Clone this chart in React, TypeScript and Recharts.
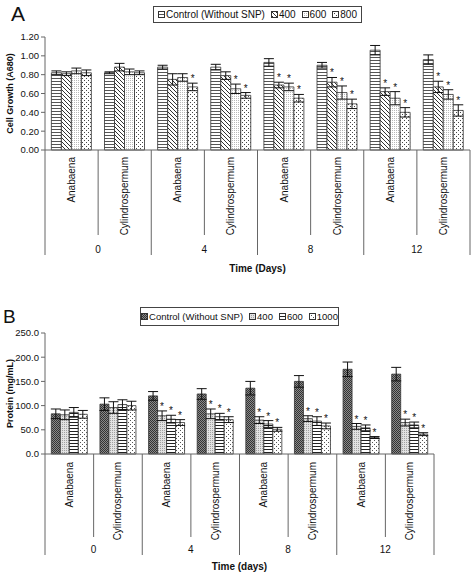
import React from "react";
import { Bar, BarChart, ErrorBar, LabelList, XAxis, YAxis } from "recharts";

const FONT = "'Liberation Sans', Arial, sans-serif";

// x categories: species within each day
const species = ["Anabaena", "Cylindrospermum", "Anabaena", "Cylindrospermum", "Anabaena", "Cylindrospermum", "Anabaena", "Cylindrospermum"];
const dayLabels = ["0", "0", "4", "4", "8", "8", "12", "12"];

// Panel A: cell growth (A680)
const growthNames = ["Control (Without SNP)", "400", "600", "800"];
const growthControl = [0.82, 0.82, 0.88, 0.88, 0.93, 0.9, 1.06, 0.96];
const growth400 = [0.81, 0.88, 0.75, 0.79, 0.69, 0.72, 0.62, 0.67];
const growth600 = [0.84, 0.83, 0.77, 0.65, 0.67, 0.61, 0.55, 0.59];
const growth800 = [0.82, 0.82, 0.67, 0.58, 0.55, 0.49, 0.4, 0.42];
const growthErrControl = [0.02, 0.01, 0.02, 0.03, 0.04, 0.03, 0.05, 0.05];
const growthErr400 = [0.02, 0.04, 0.06, 0.04, 0.03, 0.05, 0.04, 0.06];
const growthErr600 = [0.03, 0.03, 0.04, 0.05, 0.04, 0.07, 0.07, 0.05];
const growthErr800 = [0.03, 0.02, 0.04, 0.03, 0.04, 0.05, 0.05, 0.06];
const growthStar400 = [0, 0, 0, 0, 1, 1, 1, 1];
const growthStar600 = [0, 0, 0, 1, 1, 1, 1, 1];
const growthStar800 = [0, 0, 1, 1, 1, 1, 1, 1];
const growthTicks = [0, 0.2, 0.4, 0.6, 0.8, 1.0, 1.2];

// Panel B: protein (mg/mL)
const proteinNames = ["Control (Without SNP)", "400", "600", "1000"];
const proteinControl = [83, 103, 120, 124, 136, 150, 175, 165];
const protein400 = [81, 96, 79, 83, 70, 73, 57, 65];
const protein600 = [86, 102, 72, 77, 62, 68, 54, 60];
const protein1000 = [82, 100, 65, 71, 51, 58, 34, 41];
const proteinErrControl = [10, 13, 9, 11, 14, 12, 15, 14];
const proteinErr400 = [10, 12, 10, 10, 7, 6, 6, 7];
const proteinErr600 = [10, 10, 8, 7, 7, 9, 6, 6];
const proteinErr1000 = [8, 9, 6, 6, 4, 6, 2, 3];
const proteinStar400 = [0, 0, 1, 1, 1, 1, 1, 1];
const proteinStar600 = [0, 0, 1, 1, 1, 1, 1, 1];
const proteinStar1000 = [0, 0, 1, 1, 1, 1, 1, 1];
const proteinTicks = [0, 50, 100, 150, 200, 250];

const noStar = [0, 0, 0, 0, 0, 0, 0, 0];

function buildRows(values: number[][], errors: number[][], stars: number[][]) {
  return species.map((name, i) => {
    const row: any = { key: `${dayLabels[i]}-${name}` };
    values.forEach((vals, s) => {
      row[`v${s}`] = vals[i];
      row[`e${s}`] = errors[s][i];
      // star offset as a fraction of the bar height, so it sits above the error bar
      row[`r${s}`] = stars[s][i] ? errors[s][i] / vals[i] : null;
    });
    return row;
  });
}

const growthRows = buildRows(
  [growthControl, growth400, growth600, growth800],
  [growthErrControl, growthErr400, growthErr600, growthErr800],
  [noStar, growthStar400, growthStar600, growthStar800]
);
const proteinRows = buildRows(
  [proteinControl, protein400, protein600, protein1000],
  [proteinErrControl, proteinErr400, proteinErr600, proteinErr1000],
  [noStar, proteinStar400, proteinStar600, proteinStar1000]
);

function Patterns() {
  return (
    <svg width={0} height={0} style={{ position: "absolute" }}>
      <defs>
        <pattern id="aCtrl" width={4} height={3} patternUnits="userSpaceOnUse">
          <rect width={4} height={3} fill="#fff" />
          <rect width={4} height={1} fill="#555" />
        </pattern>
        <pattern id="a400" width={4} height={4} patternUnits="userSpaceOnUse">
          <rect width={4} height={4} fill="#fff" />
          <path d="M-1,-1 L5,5 M-1,3 L1,5 M3,-1 L5,1" stroke="#333" strokeWidth={1} />
        </pattern>
        <pattern id="a600" width={2} height={2} patternUnits="userSpaceOnUse">
          <rect width={2} height={2} fill="#fff" />
          <rect width={1} height={1} fill="#b8b8b8" />
        </pattern>
        <pattern id="a800" width={4} height={4} patternUnits="userSpaceOnUse">
          <rect width={4} height={4} fill="#fff" />
          <rect width={1} height={1} fill="#444" />
          <rect x={2} y={2} width={1} height={1} fill="#444" />
        </pattern>
        <pattern id="bCtrl" width={2} height={2} patternUnits="userSpaceOnUse">
          <rect width={2} height={2} fill="#8a8a8a" />
          <rect width={1} height={1} fill="#333" />
          <rect x={1} y={1} width={1} height={1} fill="#333" />
        </pattern>
        <pattern id="b400" width={2} height={2} patternUnits="userSpaceOnUse">
          <rect width={2} height={2} fill="#e2e2e2" />
          <rect width={1} height={1} fill="#a0a0a0" />
        </pattern>
        <pattern id="b600" width={4} height={3} patternUnits="userSpaceOnUse">
          <rect width={4} height={3} fill="#fff" />
          <rect width={4} height={1} fill="#222" />
        </pattern>
        <pattern id="b1000" width={4} height={4} patternUnits="userSpaceOnUse">
          <rect width={4} height={4} fill="#fff" />
          <rect width={1} height={1} fill="#555" />
          <rect x={2} y={2} width={1} height={1} fill="#555" />
        </pattern>
      </defs>
    </svg>
  );
}

function Legend({ names, fills, fontSize, style }: { names: string[]; fills: string[]; fontSize: number; style: React.CSSProperties }) {
  return (
    <div
      style={{
        position: "absolute",
        display: "flex",
        alignItems: "center",
        justifyContent: "center",
        gap: 6,
        border: "1px solid #444",
        boxSizing: "border-box",
        fontFamily: FONT,
        fontSize,
        whiteSpace: "nowrap",
        color: "#111",
        ...style,
      }}
    >
      {names.map((n, i) => (
        <span key={n} style={{ display: "flex", alignItems: "center", gap: 1 }}>
          <svg width={7} height={7}>
            <rect x={0.5} y={0.5} width={6} height={6} fill={`url(#${fills[i]})`} stroke="#333" />
          </svg>
          {n}
        </span>
      ))}
    </div>
  );
}

function CategoryTick(props: any) {
  const { x, y, payload, index, speciesLen, groupLen, groupDy, labelDy } = props;
  const half = payload?.offset ?? 0;
  const left = x - half;
  const isGroupStart = index % 2 === 0;
  return (
    <g>
      <line x1={left} x2={left} y1={y} y2={y + (isGroupStart ? groupLen : speciesLen)} stroke="#666" />
      {index === species.length - 1 && (
        <line x1={x + half} x2={x + half} y1={y} y2={y + groupLen} stroke="#666" />
      )}
      <text
        x={x}
        y={y + labelDy}
        transform={`rotate(-90, ${x}, ${y + labelDy})`}
        textAnchor="end"
        dominantBaseline="central"
        fontSize={10}
        fontFamily={FONT}
        fill="#111"
      >
        {species[index]}
      </text>
      {!isGroupStart && (
        <text x={left} y={y + groupDy} textAnchor="middle" fontSize={10} fontFamily={FONT} fill="#111">
          {dayLabels[index]}
        </text>
      )}
    </g>
  );
}

function StarLabel(props: any) {
  const vb = props.viewBox ?? props;
  const ratio = props.value;
  if (ratio === null || ratio === undefined || ratio === "") return null;
  const top = vb.y - Number(ratio) * vb.height;
  return (
    <text x={vb.x + vb.width / 2} y={top - 1} textAnchor="middle" fontSize={10} fontFamily={FONT} fill="#111">
      *
    </text>
  );
}

function Panel({
  rows,
  fills,
  ticks,
  digits,
  yLabel,
  xLabel,
  height,
  marginTop,
  marginRight,
  xAxisHeight,
  speciesLen,
  groupLen,
  groupDy,
  labelDy,
  xLabelOffset,
  gap,
}: any) {
  return (
    <BarChart
      width={472}
      height={height}
      data={rows}
      margin={{ top: marginTop, right: marginRight, bottom: 0, left: 0 }}
      barGap={0}
      barCategoryGap={gap}
    >
      <YAxis
        width={45}
        domain={[ticks[0], ticks[ticks.length - 1]]}
        ticks={ticks}
        tickFormatter={(v: number) => v.toFixed(digits)}
        tick={{ fontSize: 9.5, fill: "#111", fontFamily: FONT }}
        tickSize={4}
        stroke="#666"
        label={{
          value: yLabel,
          content: ({ viewBox }: any) => {
            const cy = viewBox.y + viewBox.height / 2;
            return (
              <text
                x={10}
                y={cy}
                transform={`rotate(-90, 10, ${cy})`}
                textAnchor="middle"
                dominantBaseline="central"
                fontSize={9}
                fontWeight="bold"
                fontFamily={FONT}
                fill="#111"
              >
                {yLabel}
              </text>
            );
          },
        }}
      />
      <XAxis
        dataKey="key"
        interval={0}
        height={xAxisHeight}
        tickSize={0}
        tickMargin={0}
        tickLine={false}
        stroke="#666"
        tick={(p: any) => (
          <CategoryTick {...p} speciesLen={speciesLen} groupLen={groupLen} groupDy={groupDy} labelDy={labelDy} />
        )}
        label={{
          value: xLabel,
          position: "insideBottom",
          offset: xLabelOffset,
          style: { fontSize: 10, fontWeight: "bold", fontFamily: FONT, fill: "#111" },
        }}
      />
      {fills.map((f: string, s: number) => (
        <Bar key={f} dataKey={`v${s}`} fill={`url(#${f})`} stroke="#333" strokeWidth={0.8} isAnimationActive={false}>
          <ErrorBar dataKey={`e${s}`} width={5} stroke="#111" strokeWidth={1} />
          <LabelList dataKey={`r${s}`} content={StarLabel} />
        </Bar>
      ))}
    </BarChart>
  );
}

export default function App() {
  return (
    <div style={{ position: "absolute", left: 0, top: 0, width: 472, height: 572, background: "#fff", fontFamily: FONT }}>
      <Patterns />
      <div style={{ position: "absolute", left: 11, top: 3, fontSize: 21, lineHeight: 1, color: "#111" }}>A</div>
      <Legend
        names={growthNames}
        fills={["aCtrl", "a400", "a600", "a800"]}
        fontSize={10}
        style={{ left: 153, top: 6, width: 209, height: 17 }}
      />
      <div style={{ position: "absolute", left: 0, top: 0 }}>
        <Panel
          rows={growthRows}
          fills={["aCtrl", "a400", "a600", "a800"]}
          ticks={growthTicks}
          digits={2}
          yLabel="Cell Growth (A680)"
          xLabel="Time (Days)"
          height={280}
          marginTop={37}
          marginRight={2}
          xAxisHeight={130}
          speciesLen={85}
          groupLen={105}
          groupDy={103}
          labelDy={7}
          xLabelOffset={8}
          gap="12%"
        />
      </div>
      <div style={{ position: "absolute", left: 3, top: 307, fontSize: 19, lineHeight: 1, color: "#111" }}>B</div>
      <Legend
        names={proteinNames}
        fills={["bCtrl", "b400", "b600", "b1000"]}
        fontSize={9.5}
        style={{ left: 140, top: 307, width: 199, height: 19 }}
      />
      <div style={{ position: "absolute", left: 0, top: 290 }}>
        <Panel
          rows={proteinRows}
          fills={["bCtrl", "b400", "b600", "b1000"]}
          ticks={proteinTicks}
          digits={1}
          yLabel="Protein (mg/mL)"
          xLabel="Time (days)"
          height={282}
          marginTop={43}
          marginRight={38}
          xAxisHeight={118}
          speciesLen={83}
          groupLen={101}
          groupDy={99}
          labelDy={8}
          xLabelOffset={2}
          gap="13%"
        />
      </div>
    </div>
  );
}
